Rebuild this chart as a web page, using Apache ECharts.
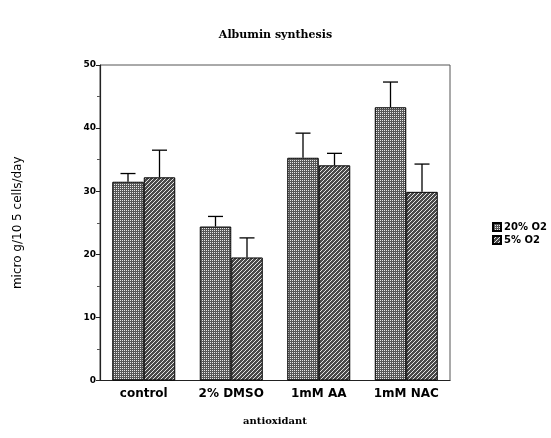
<!DOCTYPE html>
<html>
<head>
<meta charset="utf-8">
<script src="https://cdn.jsdelivr.net/npm/echarts@6/dist/echarts.min.js"></script>
<style>
  html, body { margin: 0; padding: 0; background: #fff; }
  #chart { width: 551px; height: 438px; }
</style>
</head>
<body>
<div id="chart"></div>
<script>
// Albumin synthesis per antioxidant treatment, two oxygen levels
const categories = ['control', '2% DMSO', '1mM AA', '1mM NAC'];
const seriesNames = ['20% O2', '5% O2'];
const o2High = [31.5, 24.4, 35.3, 43.3];   // 20% O2 means
const o2Low = [32.2, 19.5, 34.1, 29.9];    // 5% O2 means
const errHigh = [1.3, 1.6, 3.9, 4.0];      // 20% O2 upper error
const errLow = [4.3, 3.1, 1.9, 4.4];       // 5% O2 upper error
const yTicks = [0, 10, 20, 30, 40, 50];

// Fill patterns: dotted grey for 20% O2, diagonal hatch for 5% O2
function dotPattern() {
  const c = document.createElement('canvas');
  c.width = 2; c.height = 2;
  const g = c.getContext('2d');
  g.fillStyle = '#575757'; g.fillRect(0, 0, 2, 2);
  g.fillStyle = '#e8e8e8';
  g.fillRect(0, 0, 1, 1);
  return c;
}
function hatchPattern() {
  const c = document.createElement('canvas');
  c.width = 4; c.height = 4;
  const g = c.getContext('2d');
  g.fillStyle = '#4a4a4a'; g.fillRect(0, 0, 4, 4);
  g.fillStyle = '#e4e4e4';
  for (let i = 0; i < 4; i++) g.fillRect(3 - i, i, 1, 1);
  return c;
}
const fillHigh = { image: dotPattern(), repeat: 'repeat' };
const fillLow = { image: hatchPattern(), repeat: 'repeat' };

const GAP = 0.28; // barCategoryGap fraction

function errorSeries(means, errs, idx) {
  return {
    type: 'custom',
    name: seriesNames[idx] + ' err',
    silent: true,
    z: 5,
    data: means.map((m, i) => [i, m, m + errs[i]]),
    renderItem: function (params, api) {
      const band = api.size([1, 0])[0];
      const barW = band * (1 - GAP) / 2;
      const off = idx === 0 ? -barW / 2 : barW / 2;
      const base = api.coord([api.value(0), api.value(1)]);
      const top = api.coord([api.value(0), api.value(2)]);
      const x = base[0] + off;
      const cap = 7.5;
      const style = { stroke: '#000', lineWidth: 1.3 };
      return {
        type: 'group',
        children: [
          { type: 'line', shape: { x1: x, y1: base[1], x2: x, y2: top[1] }, style: style },
          { type: 'line', shape: { x1: x - cap, y1: top[1], x2: x + cap, y2: top[1] }, style: style }
        ]
      };
    }
  };
}

const chart = echarts.init(document.getElementById('chart'), null, { renderer: 'canvas' });
chart.setOption({
  backgroundColor: '#fff',
  animation: false,
  title: {
    text: 'Albumin synthesis',
    left: 'center',
    top: 25,
    textStyle: { fontFamily: 'DejaVu Serif', fontWeight: 'bold', fontSize: 11, color: '#000' }
  },
  legend: {
    data: seriesNames,
    orient: 'vertical',
    left: 487,
    top: 217,
    itemWidth: 8,
    itemHeight: 8,
    itemGap: 3,
    icon: 'rect',
    textStyle: { fontFamily: 'DejaVu Sans', fontWeight: 'bold', fontSize: 10, color: '#000', padding: [0, 0, 0, -2] }
  },
  grid: {
    left: 100, right: 101, top: 65, bottom: 57.5,
    show: true, borderColor: '#555', borderWidth: 1
  },
  xAxis: {
    type: 'category',
    data: categories,
    name: 'antioxidant',
    nameLocation: 'middle',
    nameGap: 36,
    nameTextStyle: { fontFamily: 'DejaVu Serif', fontWeight: 'bold', fontSize: 10, color: '#000' },
    axisLine: { lineStyle: { color: '#222', width: 1.2 } },
    axisTick: { length: 4, lineStyle: { color: '#222' } },
    axisLabel: { interval: 0, fontFamily: 'DejaVu Sans', fontWeight: 'bold', fontSize: 12, color: '#000', margin: 7 }
  },
  yAxis: {
    type: 'value',
    min: yTicks[0],
    max: yTicks[yTicks.length - 1],
    interval: 10,
    name: 'micro g/10 5 cells/day',
    nameLocation: 'middle',
    nameGap: 76,
    nameTextStyle: { fontFamily: 'DejaVu Sans', fontSize: 12, color: '#000' },
    axisLine: { show: true, lineStyle: { color: '#222', width: 1.2 } },
    axisTick: { show: true, length: 4, lineStyle: { color: '#222' } },
    minorTick: { show: true, splitNumber: 2, length: 3, lineStyle: { color: '#555' } },
    splitLine: { show: false },
    axisLabel: { fontFamily: 'DejaVu Sans', fontWeight: 'bold', fontSize: 9, color: '#000', margin: 4 }
  },
  series: [
    {
      name: seriesNames[0],
      type: 'bar',
      data: o2High,
      barGap: '0%',
      barCategoryGap: (GAP * 100) + '%',
      itemStyle: { color: fillHigh, borderColor: '#000', borderWidth: 1 }
    },
    {
      name: seriesNames[1],
      type: 'bar',
      data: o2Low,
      barGap: '0%',
      barCategoryGap: (GAP * 100) + '%',
      itemStyle: { color: fillLow, borderColor: '#000', borderWidth: 1 }
    },
    errorSeries(o2High, errHigh, 0),
    errorSeries(o2Low, errLow, 1)
  ]
});
</script>
</body>
</html>
